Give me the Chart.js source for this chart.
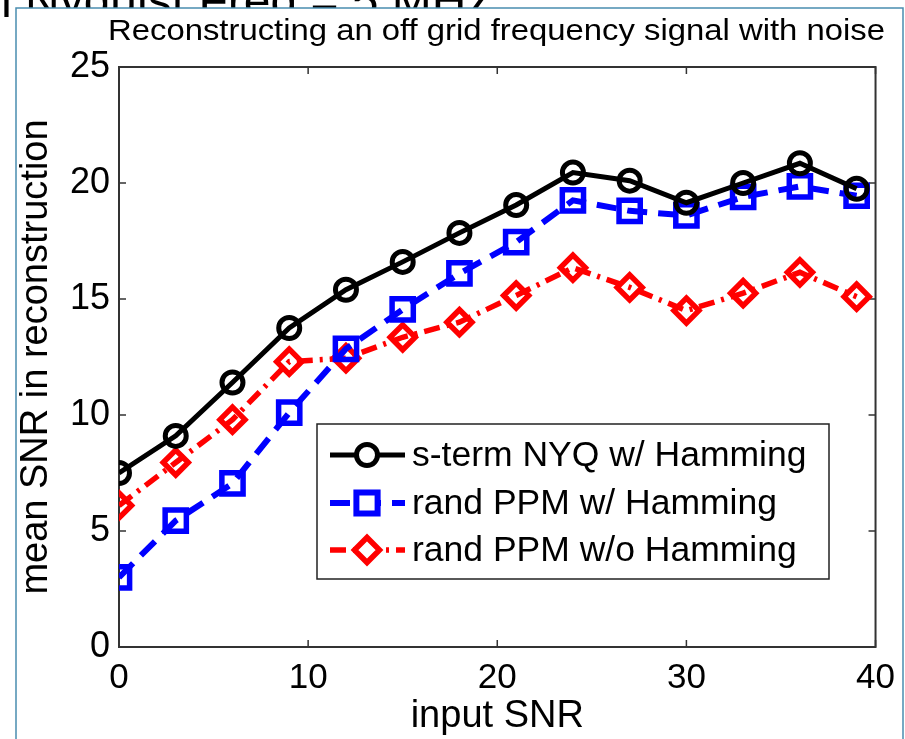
<!DOCTYPE html>
<html>
<head>
<meta charset="utf-8">
<script src="https://cdn.jsdelivr.net/npm/chart.js@4.4.1/dist/chart.umd.min.js"></script>
<style>
  html, body { margin: 0; padding: 0; background: #fff; }
  #wrap { width: 905px; height: 739px; position: relative; }
</style>
</head>
<body>
<div id="wrap"><canvas id="chart" width="905" height="739"></canvas></div>
<script>
// data
const inputSNR = [0, 3, 6, 9, 12, 15, 18, 21, 24, 27, 30, 33, 36, 39];
const nyqHamming = [7.5, 9.1, 11.4, 13.75, 15.4, 16.6, 17.85, 19.05, 20.45, 20.1, 19.15, 20.0, 20.85, 19.75];
const ppmHamming = [3.0, 5.45, 7.05, 10.1, 12.85, 14.55, 16.1, 17.45, 19.25, 18.8, 18.6, 19.4, 19.85, 19.45];
const ppmNoHamming = [6.1, 7.95, 9.8, 12.3, 12.45, 13.35, 14.0, 15.15, 16.35, 15.5, 14.5, 15.25, 16.15, 15.1];
const seriesNames = ["s-term NYQ w/ Hamming", "rand PPM w/ Hamming", "rand PPM w/o Hamming"];
const xTicks = [0, 10, 20, 30, 40];
const yTicks = [0, 5, 10, 15, 20, 25];

const FONT = "'Liberation Sans', Arial, Helvetica, sans-serif";
const chartL = 119, chartT = 67, chartR = 877, chartB = 647;

const toPts = (ys) => ys.map((y, i) => ({ x: inputSNR[i], y: y }));

// slide frame, clipped heading above it, the title
const framePlugin = {
  id: "frame",
  beforeDraw(chart) {
    const c = chart.ctx;
    c.save();
    c.fillStyle = "#fff";
    c.fillRect(0, 0, chart.width, chart.height);
    c.font = "48px " + FONT;
    c.fillStyle = "#000";
    c.textBaseline = "alphabetic";
    const pre = c.measureText("n ").width;
    c.fillText("n Nyquist Freq = 5 MHz", 25 - pre, 17);
    c.fillStyle = "#fff";
    c.fillRect(16, 8, 887, 740);
    c.strokeStyle = "#4a8db0";
    c.lineWidth = 1.5;
    c.beginPath();
    c.moveTo(16, 740);
    c.lineTo(16, 8);
    c.lineTo(903, 8);
    c.lineTo(903, 740);
    c.stroke();

    const title = "Reconstructing an off grid frequency signal with noise";
    c.font = "29px " + FONT;
    const w = c.measureText(title).width;
    c.translate(108, 40);
    c.scale(777 / w, 1);
    c.fillStyle = "#000";
    c.fillText(title, 0, 0);
    c.restore();
  },
  beforeDatasetsDraw(chart) {
    const c = chart.ctx;
    const a = chart.chartArea;
    const xs = chart.scales.x, ys = chart.scales.y;
    c.save();
    c.strokeStyle = "#333";
    c.lineWidth = 1.5;
    c.beginPath();
    xTicks.forEach((v) => {
      const px = xs.getPixelForValue(v);
      c.moveTo(px, a.bottom); c.lineTo(px, a.bottom - 7);
      c.moveTo(px, a.top); c.lineTo(px, a.top + 7);
    });
    yTicks.forEach((v) => {
      const py = ys.getPixelForValue(v);
      c.moveTo(a.left, py); c.lineTo(a.left + 7, py);
      c.moveTo(a.right, py); c.lineTo(a.right - 7, py);
    });
    c.stroke();
    c.lineWidth = 2;
    c.strokeRect(a.left, a.top, a.right - a.left, a.bottom - a.top);
    c.restore();
  },
};

// matlab-style legend box inside the axes
const legendPlugin = {
  id: "boxLegend",
  afterDatasetsDraw(chart) {
    const c = chart.ctx;
    const bx = 317, by = 424, bw = 512, bh = 155;
    c.save();
    c.fillStyle = "#fff";
    c.fillRect(bx, by, bw, bh);
    c.strokeStyle = "#222";
    c.lineWidth = 1.5;
    c.strokeRect(bx, by, bw, bh);
    const rows = [455, 503, 550];
    chart.data.datasets.forEach((ds, i) => {
      const y = rows[i];
      c.strokeStyle = ds.borderColor;
      c.lineWidth = ds.borderWidth;
      c.setLineDash(ds.borderDash || []);
      c.beginPath();
      c.moveTo(330, y);
      c.lineTo(405, y);
      c.stroke();
      c.setLineDash([]);
      c.fillStyle = "#fff";
      c.strokeStyle = ds.pointBorderColor;
      Chart.helpers.drawPoint(c, {
        pointStyle: ds.pointStyle,
        radius: ds.pointRadius,
        borderWidth: ds.pointBorderWidth,
        rotation: 0,
      }, 367, y);
      c.fillStyle = "#000";
      c.font = "35.5px " + FONT;
      c.textBaseline = "middle";
      c.fillText(seriesNames[i], 412, y + 1);
    });
    c.restore();
  },
};

new Chart(document.getElementById("chart"), {
  type: "line",
  data: {
    datasets: [
      {
        label: seriesNames[0],
        data: toPts(nyqHamming),
        borderColor: "#000",
        borderWidth: 5,
        pointStyle: "circle",
        pointRadius: 10.5,
        pointBorderWidth: 5,
        pointBorderColor: "#000",
        pointBackgroundColor: "rgba(0,0,0,0)",
      },
      {
        label: seriesNames[1],
        data: toPts(ppmHamming),
        borderColor: "#0000ff",
        borderWidth: 6,
        borderDash: [20, 11],
        pointStyle: "rect",
        pointRadius: 15,
        pointBorderWidth: 5.5,
        pointBorderColor: "#0000ff",
        pointBackgroundColor: "rgba(0,0,0,0)",
      },
      {
        label: seriesNames[2],
        data: toPts(ppmNoHamming),
        borderColor: "#ff0000",
        borderWidth: 5.5,
        borderDash: [16, 7, 3, 7],
        pointStyle: "rectRot",
        pointRadius: 12.5,
        pointBorderWidth: 5.5,
        pointBorderColor: "#ff0000",
        pointBackgroundColor: "rgba(0,0,0,0)",
      },
    ],
  },
  options: {
    responsive: false,
    animation: false,
    layout: { padding: { top: chartT, right: 905 - chartR, left: 0, bottom: 0 } },
    plugins: { legend: { display: false }, tooltip: { enabled: false }, title: { display: false } },
    elements: { line: { tension: 0 } },
    scales: {
      x: {
        type: "linear",
        min: 0,
        max: 40,
        afterFit: (s) => { s.height = 739 - chartB; },
        afterBuildTicks: (s) => { s.ticks = xTicks.map((v) => ({ value: v })); },
        grid: { display: false, drawTicks: false },
        border: { display: false },
        ticks: { color: "#000", font: { family: FONT, size: 35 }, padding: 10, maxRotation: 0 },
        title: { display: true, text: "input SNR", color: "#000", font: { family: FONT, size: 38 }, padding: { top: 0, bottom: 0 } },
      },
      y: {
        type: "linear",
        min: 0,
        max: 25,
        afterFit: (s) => { s.width = chartL; },
        afterBuildTicks: (s) => { s.ticks = yTicks.map((v) => ({ value: v })); },
        grid: { display: false, drawTicks: false },
        border: { display: false },
        ticks: { color: "#000", font: { family: FONT, size: 36 }, padding: 9 },
        title: { display: true, text: "mean SNR in reconstruction", color: "#000", font: { family: FONT, size: 38 }, padding: { top: 14, bottom: 0 } },
      },
    },
  },
  plugins: [framePlugin, legendPlugin],
});
</script>
</body>
</html>
